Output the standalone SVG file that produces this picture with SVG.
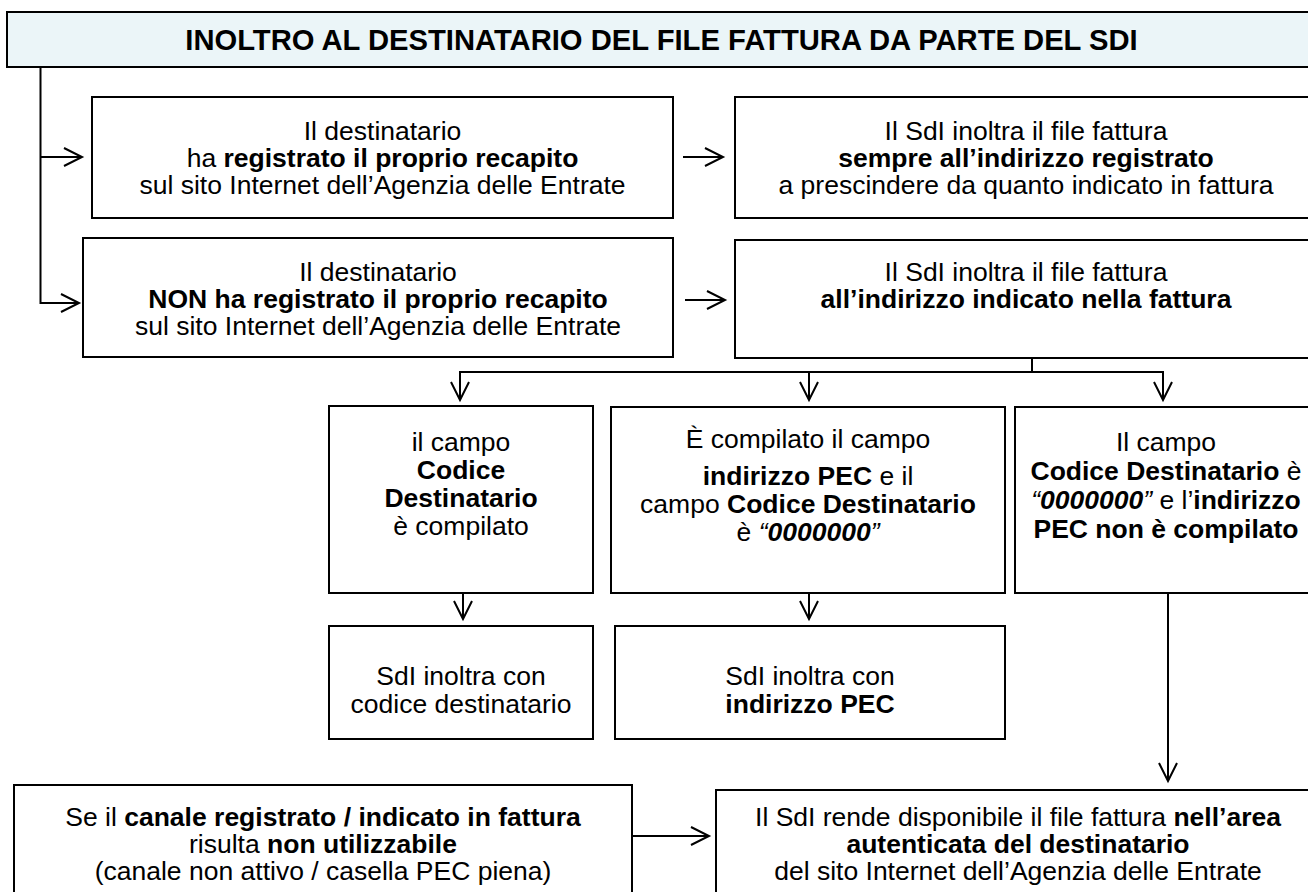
<svg xmlns="http://www.w3.org/2000/svg" width="1308" height="892" viewBox="0 0 1308 892">
<style>
.box{fill:#ffffff;stroke:#000;stroke-width:2}
.hdr{fill:#EBF5F8;stroke:#000;stroke-width:2}
text{font-family:"Liberation Sans",Arial,sans-serif;font-size:26.5px;fill:#000;text-anchor:middle}
.b{font-weight:bold}
.i{font-style:italic}
.bi{font-weight:bold;font-style:italic}
.conn{fill:none;stroke:#000;stroke-width:2}
</style>
<defs>
<marker id="ah" markerUnits="userSpaceOnUse" viewBox="-20 -11 22 22" refX="0" refY="0" markerWidth="22" markerHeight="22" orient="auto" overflow="visible">
<path d="M-18,-9 L0,0 L-18,9" fill="none" stroke="#000" stroke-width="2"/>
</marker>
</defs>

<g id="title">
<rect class="hdr" x="7" y="12" width="1310" height="55"/>
<text x="661.5" y="50" class="b" style="font-size:29.2px">INOLTRO AL DESTINATARIO DEL FILE FATTURA DA PARTE DEL SDI</text>
</g>

<g id="connectors">
<path class="conn" d="M40.5,67 V303 H79" marker-end="url(#ah)"/>
<path class="conn" d="M40.5,157 H82" marker-end="url(#ah)"/>
<path class="conn" d="M683,157 H723" marker-end="url(#ah)"/>
<path class="conn" d="M685,300 H725" marker-end="url(#ah)"/>
<path class="conn" d="M1032,358 V372"/>
<path class="conn" d="M459,372 H1164"/>
<path class="conn" d="M460,372 V400" marker-end="url(#ah)"/>
<path class="conn" d="M809,372 V400" marker-end="url(#ah)"/>
<path class="conn" d="M1163,372 V400" marker-end="url(#ah)"/>
<path class="conn" d="M463,593 V619" marker-end="url(#ah)"/>
<path class="conn" d="M809,593 V619" marker-end="url(#ah)"/>
<path class="conn" d="M1168,593 V781" marker-end="url(#ah)"/>
<path class="conn" d="M632,836 H709" marker-end="url(#ah)"/>
</g>

<g id="a1">
<rect class="box" x="92" y="97" width="581" height="121"/>
<text x="382.5" y="140">Il destinatario</text>
<text x="382.5" y="167">ha <tspan class="b">registrato il proprio recapito</tspan></text>
<text x="382.5" y="194">sul sito Internet dell’Agenzia delle Entrate</text>
</g>

<g id="a2">
<rect class="box" x="735" y="97" width="582" height="121"/>
<text x="1026" y="140">Il SdI inoltra il file fattura</text>
<text x="1026" y="167" class="b">sempre all’indirizzo registrato</text>
<text x="1026" y="194">a prescindere da quanto indicato in fattura</text>
</g>

<g id="b1">
<rect class="box" x="83" y="238" width="590" height="119"/>
<text x="378" y="281">Il destinatario</text>
<text x="378" y="308" class="b">NON ha registrato il proprio recapito</text>
<text x="378" y="335">sul sito Internet dell’Agenzia delle Entrate</text>
</g>

<g id="b2">
<rect class="box" x="735" y="240" width="582" height="118"/>
<text x="1026" y="281">Il SdI inoltra il file fattura</text>
<text x="1026" y="308" class="b">all’indirizzo indicato nella fattura</text>
</g>

<g id="c1">
<rect class="box" x="329" y="406" width="264" height="187"/>
<text x="461" y="451">il campo</text>
<text x="461" y="479" class="b">Codice</text>
<text x="461" y="507" class="b">Destinatario</text>
<text x="461" y="535">è compilato</text>
</g>

<g id="c2">
<rect class="box" x="611" y="407" width="394" height="186"/>
<text x="808" y="448">È compilato il campo</text>
<text x="808" y="485"><tspan class="b">indirizzo PEC</tspan> e il</text>
<text x="808" y="513">campo <tspan class="b">Codice Destinatario</tspan></text>
<text x="808" y="541">è <tspan class="i">“</tspan><tspan class="bi">0000000</tspan><tspan class="i">”</tspan></text>
</g>

<g id="c3">
<rect class="box" x="1015" y="407" width="302" height="186"/>
<text x="1166" y="451">Il campo</text>
<text x="1166" y="480"><tspan class="b">Codice Destinatario</tspan> è</text>
<text x="1166" y="509"><tspan class="i">“</tspan><tspan class="bi">0000000</tspan><tspan class="i">”</tspan> e l’<tspan class="b">indirizzo</tspan></text>
<text x="1166" y="538" class="b">PEC non è compilato</text>
</g>

<g id="d1">
<rect class="box" x="329" y="626" width="264" height="113"/>
<text x="461" y="685">SdI inoltra con</text>
<text x="461" y="713">codice destinatario</text>
</g>

<g id="d2">
<rect class="box" x="615" y="626" width="390" height="113"/>
<text x="810" y="685">SdI inoltra con</text>
<text x="810" y="713" class="b">indirizzo PEC</text>
</g>

<g id="e1">
<rect class="box" x="14" y="785" width="618" height="120"/>
<text x="323" y="826">Se il <tspan class="b">canale registrato / indicato in fattura</tspan></text>
<text x="323" y="853">risulta <tspan class="b">non utilizzabile</tspan></text>
<text x="323" y="880">(canale non attivo / casella PEC piena)</text>
</g>

<g id="e2">
<rect class="box" x="716" y="790" width="604" height="115"/>
<text x="1018" y="826">Il SdI rende disponibile il file fattura <tspan class="b">nell’area</tspan></text>
<text x="1018" y="853" class="b">autenticata del destinatario</text>
<text x="1018" y="880">del sito Internet dell’Agenzia delle Entrate</text>
</g>
</svg>
